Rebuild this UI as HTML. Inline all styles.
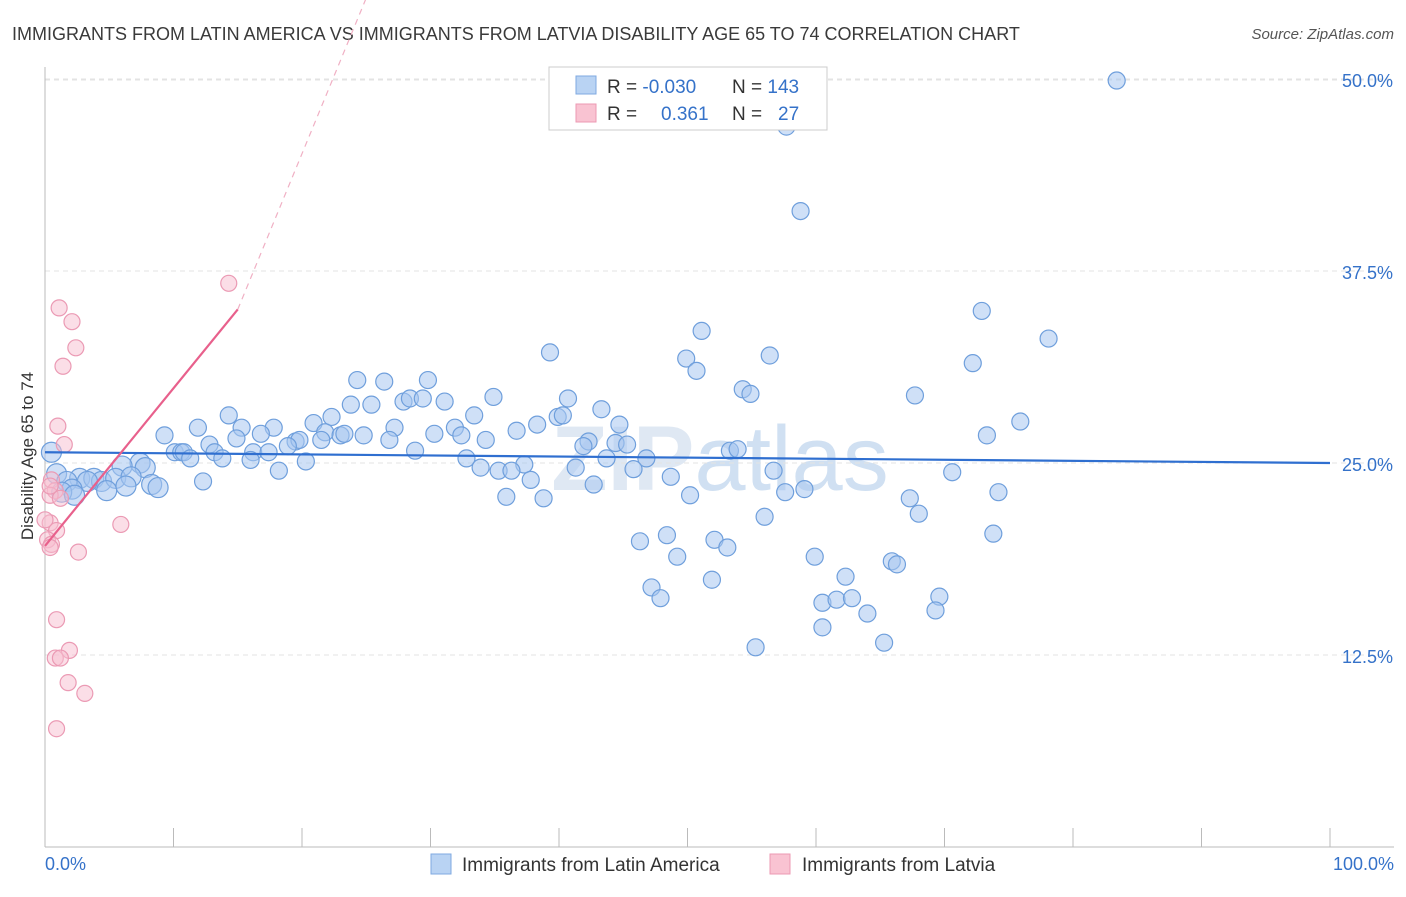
<!DOCTYPE html>
<html><head><meta charset="utf-8">
<style>
html,body{margin:0;padding:0;background:#fff;font-family:"Liberation Sans",sans-serif;}
svg text{font-family:"Liberation Sans",sans-serif;}
</style></head>
<body>
<svg id="chart" width="1406" height="892" viewBox="0 0 1406 892" xmlns="http://www.w3.org/2000/svg">
<text x="12" y="40" font-size="18" fill="#3a3a3a">IMMIGRANTS FROM LATIN AMERICA VS IMMIGRANTS FROM LATVIA DISABILITY AGE 65 TO 74 CORRELATION CHART</text>
<text x="1394" y="39" font-size="15" fill="#555" text-anchor="end" font-style="italic">Source: ZipAtlas.com</text>
<text transform="translate(33,456) rotate(-90)" font-size="17" fill="#333" text-anchor="middle">Disability Age 65 to 74</text>
<text x="720" y="490" font-size="92" fill="#dfe8f3" text-anchor="middle" font-weight="bold">ZIP<tspan fill="#d0e0f2" font-weight="normal">atlas</tspan></text>
<g id="grid"></g>
<g id="axes"></g>
<g id="marks"></g>
<g>
<rect x="549" y="67" width="278" height="63" fill="#fff" stroke="#ccc"/>
<rect x="576" y="76" width="20" height="18" fill="#b9d3f3" stroke="#7fa9e0"/>
<rect x="576" y="104" width="20" height="18" fill="#f9c3d2" stroke="#ec9ab3"/>
<text x="607" y="93" font-size="19" fill="#333">R = <tspan fill="#3572c9">-0.030</tspan></text>
<text x="732" y="93" font-size="19" fill="#333">N = <tspan fill="#3572c9">143</tspan></text>
<text x="607" y="120" font-size="19" fill="#333">R = <tspan fill="#3572c9" x="661">0.361</tspan></text>
<text x="732" y="120" font-size="19" fill="#333">N = <tspan fill="#3572c9" x="778">27</tspan></text>
</g>
<g>
<rect x="431" y="854" width="20" height="20" fill="#b9d3f3" stroke="#7fa9e0"/>
<text x="462" y="871" font-size="19" fill="#333">Immigrants from Latin America</text>
<rect x="770" y="854" width="20" height="20" fill="#f9c3d2" stroke="#ec9ab3"/>
<text x="802" y="871" font-size="19" fill="#333">Immigrants from Latvia</text>
</g>
</svg>
<script>
const yTicks=[12.5,25,37.5,50];
const yTickLabels=["12.5%","25.0%","37.5%","50.0%"];
const xTickVals=[0,10,20,30,40,50,60,70,80,90,100];
const blueX=[83.4,58.4,57.7,58.8,51.1,72.9,78.1,39.3,49.9,56.4,50.7,72.2,24.3,26.4,29.8,54.3,54.9,67.7,34.9,40.7,23.8,25.4,27.9,28.4,29.4,31.1,43.3,14.3,22.3,33.4,39.9,40.3,75.9,11.9,15.3,17.8,20.9,27.2,31.9,38.3,44.7,9.3,16.8,14.9,21.8,23.0,23.3,24.8,21.5,26.8,30.3,32.4,36.7,34.3,73.3,12.8,19.5,19.8,42.3,41.9,44.4,45.3,18.9,10.1,10.6,10.8,13.2,16.2,17.4,13.8,16.0,11.3,53.3,53.9,28.8,32.8,20.3,43.7,46.8,0.5,7.4,7.8,6.0,37.3,33.9,35.3,36.3,41.3,45.8,56.7,70.6,18.2,0.9,2.7,3.8,4.4,1.7,5.5,3.3,6.7,2.1,4.8,6.3,8.3,8.8,12.3,37.8,48.7,42.7,1.3,2.3,35.9,38.8,50.2,57.6,59.1,74.2,67.3,68.0,56.0,48.4,73.8,46.3,52.1,53.1,49.2,59.9,65.9,66.3,51.9,62.3,47.2,47.9,60.5,61.6,62.8,69.6,64.0,69.3,60.5,65.3,55.3];
const blueY=[49.9,49.2,46.9,41.4,33.6,34.9,33.1,32.2,31.8,32.0,31.0,31.5,30.4,30.3,30.4,29.8,29.5,29.4,29.3,29.2,28.8,28.8,29.0,29.2,29.2,29.0,28.5,28.1,28.0,28.1,28.0,28.1,27.7,27.3,27.3,27.3,27.6,27.3,27.3,27.5,27.5,26.8,26.9,26.6,27.0,26.8,26.9,26.8,26.5,26.5,26.9,26.8,27.1,26.5,26.8,26.2,26.4,26.5,26.4,26.1,26.3,26.2,26.1,25.7,25.7,25.7,25.7,25.7,25.7,25.3,25.2,25.3,25.8,25.9,25.8,25.3,25.1,25.3,25.3,25.7,25.0,24.7,24.8,24.9,24.7,24.5,24.5,24.7,24.6,24.5,24.4,24.5,24.3,24.0,24.0,23.8,23.8,24.0,23.8,24.1,23.3,23.2,23.5,23.6,23.4,23.8,23.9,24.1,23.6,23.1,22.9,22.8,22.7,22.9,23.1,23.3,23.1,22.7,21.7,21.5,20.3,20.4,19.9,20.0,19.5,18.9,18.9,18.6,18.4,17.4,17.6,16.9,16.2,15.9,16.1,16.2,16.3,15.2,15.4,14.3,13.3,13.0];
const pinkX=[14.3,1.1,2.1,2.4,1.4,1.0,1.5,0.5,0.8,0.4,5.9,0.4,0.9,0.2,0.5,0.4,2.6,0.9,1.9,0.8,1.2,1.8,3.1,0.9,0.4,0.0,1.2];
const pinkY=[36.7,35.1,34.2,32.5,31.3,27.4,26.2,23.9,23.2,22.9,21.0,21.1,20.6,20.0,19.7,19.5,19.2,14.8,12.8,12.3,12.3,10.7,10.0,7.7,23.5,21.3,22.7];
const blueTrend=[25.7,25.0];
const pinkTrend=[19.6,35.0,64.4];
const pinkTrendX=[0,15,29.5];

const X0=45,X1=1330,Y0=847,YPX=15.36;
const xs=v=>X0+v*(X1-X0)/100;
const ys=v=>Y0-v*YPX;
const NS="http://www.w3.org/2000/svg";
function mk(tag,parent,attrs){const e=document.createElementNS(NS,tag);for(const k in attrs)e.setAttribute(k,attrs[k]);parent.appendChild(e);return e;}
const grid=document.getElementById('grid'),axes=document.getElementById('axes'),marks=document.getElementById('marks');
yTicks.forEach((t,i)=>{
  const l=mk('line',grid,{x1:X0,x2:1394,y1:ys(t),y2:ys(t),stroke:'#e3e3e3','stroke-dasharray':'5,4'});
  
  
  const tx=mk('text',axes,{x:1393,y:ys(t)+8,'font-size':18,fill:'#3572c9','text-anchor':'end'});
  tx.textContent=yTickLabels[i];
  
  
});
const topL=mk('line',grid,{x1:X0,x2:1394,y1:80,y2:80,stroke:'#e3e3e3','stroke-dasharray':'5,4'});


const yAx=mk('line',axes,{x1:X0,x2:X0,y1:67,y2:Y0,stroke:'#bbb'});


const xAx=mk('line',axes,{x1:X0,x2:1394,y1:Y0,y2:Y0,stroke:'#bbb'});


xTickVals.forEach(v=>{
  const t=mk('line',axes,{x1:xs(v),x2:xs(v),y1:828,y2:Y0,stroke:'#bbb'});
  
  
});
const xl0=mk('text',axes,{x:45,y:870,'font-size':18,fill:'#3572c9'});xl0.textContent='0.0%';


const xl1=mk('text',axes,{x:1394,y:870,'font-size':18,fill:'#3572c9','text-anchor':'end'});xl1.textContent='100.0%';



blueX.forEach((v,i)=>{
  const r=(v<10&&blueY[i]>22.5&&blueY[i]<26)?10:8.5;
  const c=mk('circle',marks,{cx:xs(v),cy:ys(blueY[i]),r:r,fill:'rgba(168,199,240,0.55)',stroke:'#6f9fdc','stroke-width':1.2});
  
  
});
pinkX.forEach((v,i)=>{
  const c=mk('circle',marks,{cx:xs(v),cy:ys(pinkY[i]),r:8,fill:'rgba(248,190,208,0.5)',stroke:'#eb9ab4','stroke-width':1.2});
  
  
});
const bl=mk('line',marks,{x1:xs(0),y1:ys(blueTrend[0]),x2:xs(100),y2:ys(blueTrend[1]),stroke:'#2f6fd0','stroke-width':2.2});


const pl=mk('line',marks,{x1:xs(pinkTrendX[0]),y1:ys(pinkTrend[0]),x2:xs(pinkTrendX[1]),y2:ys(pinkTrend[1]),stroke:'#e8608c','stroke-width':2.2});


const pd=mk('line',marks,{x1:xs(pinkTrendX[1]),y1:ys(pinkTrend[1]),x2:xs(pinkTrendX[2]),y2:ys(pinkTrend[2]),stroke:'#f0b0c4','stroke-width':1.2,'stroke-dasharray':'6,5'});


</script>
</body></html>
